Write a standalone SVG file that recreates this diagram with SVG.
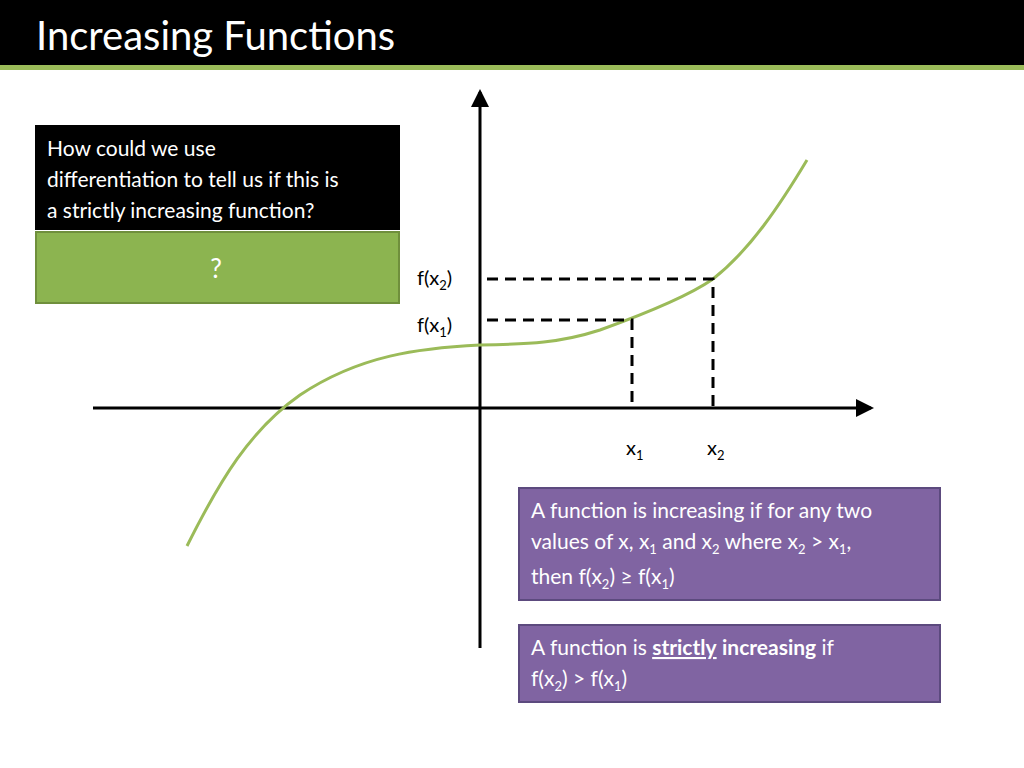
<svg xmlns="http://www.w3.org/2000/svg" width="1024" height="768" viewBox="0 0 1024 768">
<style>
text{font-family:Lato,"Liberation Sans",sans-serif}
.w{fill:#fff;font-size:21px}
.k{fill:#000;font-size:20px}
.s{font-size:13px}
.d{stroke:#000;stroke-width:3;stroke-dasharray:11,7;fill:none}
.p{fill:#8064a2;stroke:#5c4a7e;stroke-width:2}
</style>
<defs><marker id="a" markerWidth="6" markerHeight="6" refX="5" refY="3" orient="auto" markerUnits="strokeWidth"><path d="M0,0L6,3L0,6z" fill="#000"/></marker></defs>
<rect width="1024" height="768" fill="#fff"/>
<g id="title"><rect x="0" y="0" width="1024" height="65" fill="#000"/><rect x="0" y="65" width="1024" height="5" fill="#9bbb59"/>
<text x="36" y="50" fill="#fff" font-size="40">Increasing Functions</text></g>
<g id="question"><rect x="35" y="125" width="365" height="105" fill="#000"/>
<text class="w" x="47" y="156">How could we use</text><text class="w" x="47" y="187">differentiation to tell us if this is</text><text class="w" x="47" y="218">a strictly increasing function?</text></g>
<g id="answer"><rect x="36" y="232" width="363" height="71" fill="#8cb450" stroke="#6f8f3c" stroke-width="2"/><text x="216" y="278" fill="#fff" font-size="26" text-anchor="middle">?</text></g>
<g id="connectors">
<line x1="480" y1="648" x2="480" y2="92" stroke="#000" stroke-width="3" marker-end="url(#a)"/>
<line x1="93" y1="408" x2="871" y2="408" stroke="#000" stroke-width="3" marker-end="url(#a)"/>
<path d="M187,546 C220,480 250,430 300,395 C360,355 420,348 480,345 C530,344 560,343 600,330 C650,312 690,295 713,279 C750,250 780,205 807,160" fill="none" stroke="#9bbb59" stroke-width="3"/>
<path class="d" d="M487,279H713V408M487,320H632V408"/>
</g>
<g id="labels">
<text class="k" x="417" y="285">f(x<tspan class="s" dy="5">2</tspan><tspan dy="-5">)</tspan></text>
<text class="k" x="417" y="332">f(x<tspan class="s" dy="5">1</tspan><tspan dy="-5">)</tspan></text>
<text class="k" x="626" y="455">x<tspan class="s" dy="5">1</tspan></text>
<text class="k" x="707" y="455">x<tspan class="s" dy="5">2</tspan></text>
</g>
<g id="def1"><rect class="p" x="519" y="488" width="421" height="112"/>
<text class="w" x="531" y="518">A function is increasing if for any two</text>
<text class="w" x="531" y="549">values of x, x<tspan class="s" dy="5">1</tspan><tspan dy="-5"> and x</tspan><tspan class="s" dy="5">2</tspan><tspan dy="-5"> where x</tspan><tspan class="s" dy="5">2</tspan><tspan dy="-5"> &gt; x</tspan><tspan class="s" dy="5">1</tspan><tspan dy="-5">,</tspan></text>
<text class="w" x="531" y="584">then f(x<tspan class="s" dy="5">2</tspan><tspan dy="-5">) ≥ f(x</tspan><tspan class="s" dy="5">1</tspan><tspan dy="-5">)</tspan></text></g>
<g id="def2"><rect class="p" x="519" y="625" width="421" height="77"/>
<text class="w" x="531" y="655">A function is <tspan font-weight="bold" text-decoration="underline">strictly</tspan> <tspan font-weight="bold">increasing</tspan> if</text>
<text class="w" x="531" y="686">f(x<tspan class="s" dy="5">2</tspan><tspan dy="-5">) &gt; f(x</tspan><tspan class="s" dy="5">1</tspan><tspan dy="-5">)</tspan></text></g>
</svg>
